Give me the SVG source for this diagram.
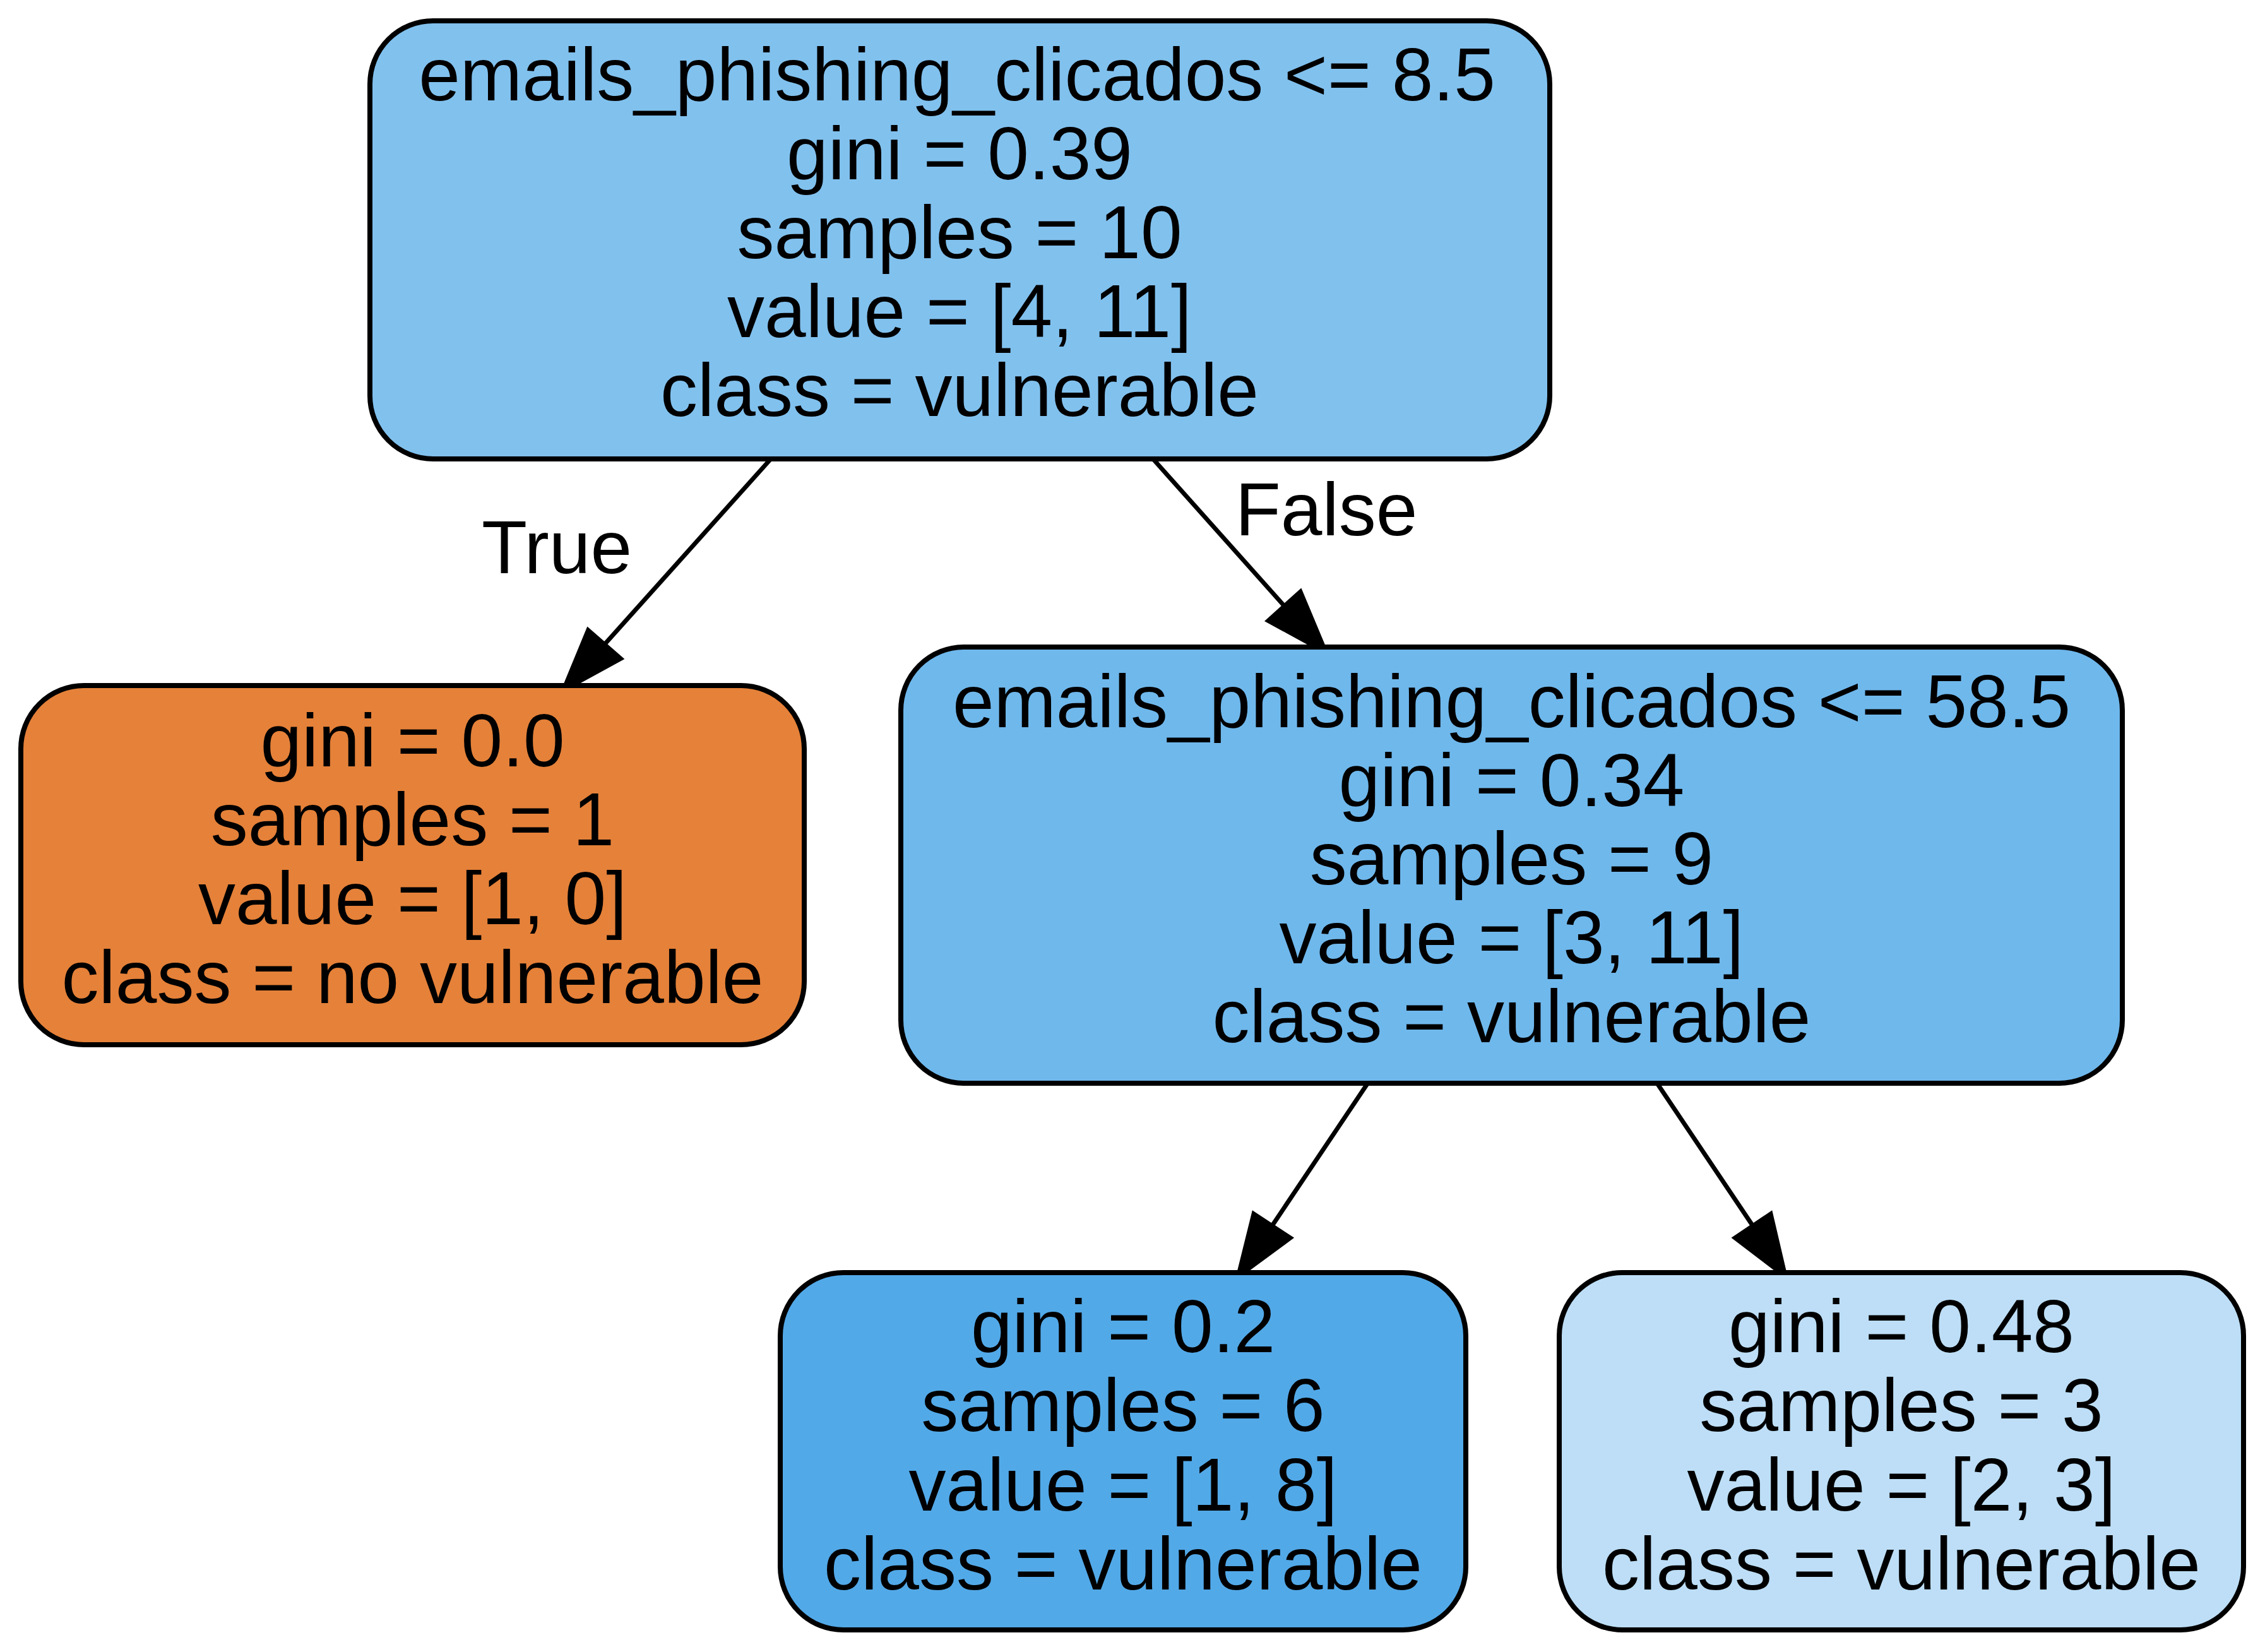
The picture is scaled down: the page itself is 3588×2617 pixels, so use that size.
<svg xmlns="http://www.w3.org/2000/svg" width="3588" height="2617" viewBox="0 0 3588 2617">
<style>
.node rect{stroke:#000;stroke-width:8}
text{font-family:"Liberation Sans",Arial,Helvetica,sans-serif;font-size:118px;fill:#000;text-anchor:middle}
.edge line{stroke:#000;stroke-width:7}
.edge polygon{fill:#000;stroke:#000;stroke-width:7;stroke-linejoin:miter}
</style>
<rect x="0" y="0" width="3588" height="2617" fill="#fff"/>
<g id="connectors" class="edge">
<g id="e0-1"><line x1="1221" y1="727" x2="957.5" y2="1021"/><polygon points="931.7,998.3 892.7,1093 983.3,1043.3"/><text x="882" y="908">True</text></g>
<g id="e0-2"><line x1="1826.5" y1="727" x2="2034.5" y2="960"/><polygon points="2060,937.3 2100,1033 2009,983.3"/><text x="2101" y="848">False</text></g>
<g id="e2-3"><line x1="2166.6" y1="1716" x2="2015" y2="1942"/><polygon points="1986,1923 1961.5,2021.6 2044,1961"/></g>
<g id="e2-4"><line x1="2625" y1="1716" x2="2776.7" y2="1942"/><polygon points="2805,1923 2828,2021.6 2748.5,1961"/></g>
</g>
<g id="node0" class="node">
<rect x="586" y="33" width="1869" height="694" rx="100" ry="100" fill="#81c1ee"/>
<text x="1516" y="159">emails_phishing_clicados &lt;= 8.5</text>
<text x="1520" y="284">gini = 0.39</text>
<text x="1520" y="409">samples = 10</text>
<text x="1520" y="534">value = [4, 11]</text>
<text x="1520" y="659">class = vulnerable</text>
</g>
<g id="node1" class="node">
<rect x="33" y="1086" width="1241" height="569" rx="100" ry="100" fill="#e58139"/>
<text x="653.5" y="1214">gini = 0.0</text>
<text x="653.5" y="1339">samples = 1</text>
<text x="653.5" y="1464">value = [1, 0]</text>
<text x="653.5" y="1589">class = no vulnerable</text>
</g>
<g id="node2" class="node">
<rect x="1427" y="1025" width="1935" height="691" rx="100" ry="100" fill="#6fb8ec"/>
<text x="2394.5" y="1152">emails_phishing_clicados &lt;= 58.5</text>
<text x="2394.5" y="1277">gini = 0.34</text>
<text x="2394.5" y="1401">samples = 9</text>
<text x="2394.5" y="1526">value = [3, 11]</text>
<text x="2394.5" y="1651">class = vulnerable</text>
</g>
<g id="node3" class="node">
<rect x="1236" y="2016" width="1086" height="566" rx="100" ry="100" fill="#52a9e8"/>
<text x="1779" y="2142">gini = 0.2</text>
<text x="1779" y="2267">samples = 6</text>
<text x="1779" y="2393">value = [1, 8]</text>
<text x="1779" y="2518">class = vulnerable</text>
</g>
<g id="node4" class="node">
<rect x="2470" y="2016" width="1084" height="566" rx="100" ry="100" fill="#bddef6"/>
<text x="3012" y="2142">gini = 0.48</text>
<text x="3012" y="2267">samples = 3</text>
<text x="3012" y="2393">value = [2, 3]</text>
<text x="3012" y="2518">class = vulnerable</text>
</g>
</svg>
